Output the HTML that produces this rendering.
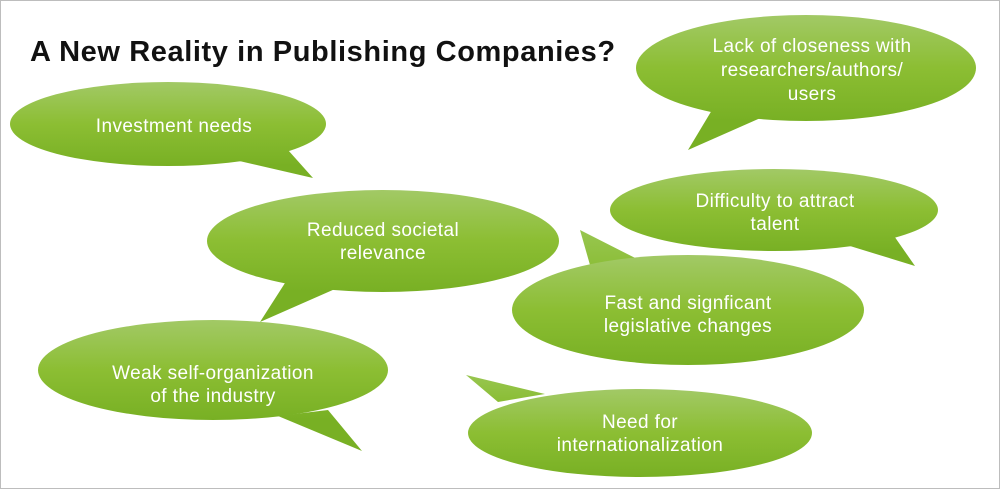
<!DOCTYPE html>
<html><head><style>
html,body{margin:0;padding:0;background:#fff}
svg{display:block}
text{font-family:"Liberation Sans",sans-serif}
</style></head><body>
<svg width="1000" height="489" viewBox="0 0 1000 489">
<defs>
<linearGradient id="g1" gradientUnits="userSpaceOnUse" x1="0" y1="82" x2="0" y2="166"><stop offset="0" stop-color="#a2c966"/><stop offset="0.5" stop-color="#8cbe33"/><stop offset="1" stop-color="#78b024"/></linearGradient>
<linearGradient id="g2" gradientUnits="userSpaceOnUse" x1="0" y1="15" x2="0" y2="121"><stop offset="0" stop-color="#a2c966"/><stop offset="0.5" stop-color="#8cbe33"/><stop offset="1" stop-color="#78b024"/></linearGradient>
<linearGradient id="g3" gradientUnits="userSpaceOnUse" x1="0" y1="190" x2="0" y2="292"><stop offset="0" stop-color="#a2c966"/><stop offset="0.5" stop-color="#8cbe33"/><stop offset="1" stop-color="#78b024"/></linearGradient>
<linearGradient id="g4" gradientUnits="userSpaceOnUse" x1="0" y1="169" x2="0" y2="251"><stop offset="0" stop-color="#a2c966"/><stop offset="0.5" stop-color="#8cbe33"/><stop offset="1" stop-color="#78b024"/></linearGradient>
<linearGradient id="g5" gradientUnits="userSpaceOnUse" x1="0" y1="255" x2="0" y2="365"><stop offset="0" stop-color="#a2c966"/><stop offset="0.5" stop-color="#8cbe33"/><stop offset="1" stop-color="#78b024"/></linearGradient>
<linearGradient id="g6" gradientUnits="userSpaceOnUse" x1="0" y1="320" x2="0" y2="420"><stop offset="0" stop-color="#a2c966"/><stop offset="0.5" stop-color="#8cbe33"/><stop offset="1" stop-color="#78b024"/></linearGradient>
<linearGradient id="g7" gradientUnits="userSpaceOnUse" x1="0" y1="389" x2="0" y2="477"><stop offset="0" stop-color="#a2c966"/><stop offset="0.5" stop-color="#8cbe33"/><stop offset="1" stop-color="#78b024"/></linearGradient>
<linearGradient id="gt" x1="0" y1="0" x2="0" y2="1"><stop offset="0" stop-color="#98c650"/><stop offset="1" stop-color="#8abd35"/></linearGradient>
</defs>
<rect x="0.5" y="0.5" width="999" height="488" fill="#fff" stroke="#bdbdbd"/>
<text x="30" y="61" font-size="29" font-weight="bold" fill="#111" letter-spacing="0.6">A New Reality in Publishing Companies?</text>
<g fill="url(#g1)"><ellipse cx="168" cy="124" rx="158" ry="42"/><polygon points="235,160 313,178 288,150"/></g>
<g fill="url(#g2)"><ellipse cx="806" cy="68" rx="170" ry="53"/><polygon points="712,110 688,150 765,116"/></g>
<g fill="url(#g3)"><ellipse cx="383" cy="241" rx="176" ry="51"/><polygon points="285,283 260,322 335,289"/></g>
<g fill="url(#g4)"><ellipse cx="774" cy="210" rx="164" ry="41"/><polygon points="850,246 915,266 892,233"/></g>
<polygon points="592,272 580,230 645,263" fill="url(#gt)"/>
<ellipse cx="688" cy="310" rx="176" ry="55" fill="url(#g5)"/>
<g fill="url(#g6)"><ellipse cx="213" cy="370" rx="175" ry="50"/><polygon points="278,416 362,451 328,410"/></g>
<polygon points="498,402 466,375 545,394" fill="url(#gt)"/>
<ellipse cx="640" cy="433" rx="172" ry="44" fill="url(#g7)"/>
<g fill="#fff" font-size="19" text-anchor="middle" letter-spacing="0.4">
<text x="174" y="132">Investment needs</text>
<text x="812" y="52">Lack of closeness with</text>
<text x="812" y="76">researchers/authors/</text>
<text x="812" y="100">users</text>
<text x="383" y="236">Reduced societal</text>
<text x="383" y="259">relevance</text>
<text x="775" y="207">Difficulty to attract</text>
<text x="775" y="230">talent</text>
<text x="688" y="309">Fast and signficant</text>
<text x="688" y="332">legislative changes</text>
<text x="213" y="379">Weak self-organization</text>
<text x="213" y="402">of the industry</text>
<text x="640" y="428">Need for</text>
<text x="640" y="451">internationalization</text>
</g>
</svg>
</body></html>
